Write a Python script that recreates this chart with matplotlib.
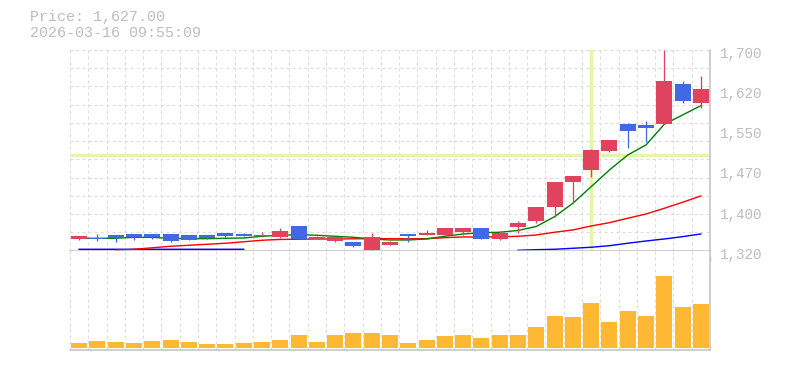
import matplotlib
matplotlib.use("Agg")
import matplotlib.pyplot as plt
import matplotlib.transforms as mtransforms
import numpy as np

# ---------------- data ----------------
dates = ["1/28", "1/29", "1/30", "2/2", "2/3", "2/4", "2/5", "2/6", "2/9", "2/10",
         "2/12", "2/13", "2/16", "2/17", "2/18", "2/19", "2/20", "2/24", "2/25", "2/26",
         "2/27", "3/2", "3/3", "3/4", "3/5", "3/6", "3/9", "3/10", "3/11", "3/12",
         "3/13", "3/16", "3/17", "3/18", "3/19"]

opens = [1343, 1344, 1350, 1352, 1352, 1352, 1350, 1350, 1354, 1352,
         1348, 1346, 1367, 1343, 1338, 1337, 1321, 1331, 1352, 1350,
         1350, 1356, 1363, 1343, 1365, 1376, 1403, 1451, 1472, 1509,
         1560, 1558, 1560, 1636, 1600]
highs = [1348, 1352, 1350, 1352, 1352, 1352, 1350, 1350, 1354, 1354,
         1356, 1363, 1367, 1347, 1348, 1337, 1353, 1338, 1352, 1359,
         1363, 1363, 1363, 1357, 1376, 1403, 1450, 1462, 1513, 1530,
         1562, 1566, 1700, 1641, 1651]
lows = [1341, 1338, 1337, 1341, 1343, 1337, 1340, 1343, 1346, 1347,
        1346, 1344, 1342, 1342, 1336, 1327, 1320, 1330, 1337, 1350,
        1350, 1349, 1343, 1341, 1353, 1373, 1384, 1413, 1460, 1506,
        1515, 1526, 1560, 1600, 1591]
closes = [1348, 1343, 1344, 1346, 1345, 1339, 1341, 1344, 1347, 1348,
          1350, 1358, 1342, 1346, 1345, 1329, 1346, 1337, 1347, 1354,
          1363, 1363, 1343, 1354, 1373, 1403, 1450, 1462, 1511, 1530,
          1547, 1552, 1641, 1603, 1627]

volumes = [50, 70, 60, 50, 70, 80, 60, 40, 40, 50,
           60, 80, 130, 60, 130, 150, 150, 130, 50, 80,
           120, 130, 100, 130, 130, 210, 320, 310, 450, 260,
           370, 320, 710, 410, 440]

nan = float("nan")
ma_short = [1343.5, 1343.5, 1343.5, 1345.4, 1345.4, 1343.2, 1342.8, 1342.8, 1343.5, 1344.1,
            1347.3, 1349.2, 1350.4, 1349.2, 1347.3, 1345.4, 1342.2, 1340.3, 1340.3, 1342.2,
            1347.5, 1351.7, 1354.1, 1354.9, 1358.3, 1365.9, 1384.4, 1409.8, 1441.2, 1472.8,
            1501.2, 1520.2, 1559.4, 1577.0, 1594.6]
ma_mid = [nan, nan, 1320.8, 1322.7, 1325.5, 1328.4, 1330.3, 1332.2, 1334.1, 1336.9,
          1339.8, 1341.3, 1341.7, 1342.2, 1342.2, 1342.5, 1342.8, 1342.8, 1342.5, 1342.8,
          1344.7, 1346.0, 1346.0, 1346.4, 1347.3, 1349.8, 1354.9, 1359.3, 1366.8, 1373.1,
          1381.4, 1389.5, 1400.3, 1411.7, 1423.6]
ma_long = [1322.7, 1322.7, 1322.7, 1322.7, 1322.7, 1322.7, 1322.7, 1322.7, 1322.7, 1322.7,
           nan, nan, nan, nan, nan, nan, nan, nan, nan, nan,
           nan, nan, nan, nan, 1320.8, 1321.9, 1322.7, 1324.6, 1326.5, 1329.5,
           1334.1, 1338.4, 1342.2, 1346.6, 1351.7]

date_labels = ["2/3", "2/10", "2/18", "2/26", "3/5", "3/12", "3/19"]
price_labels = ["1,320", "1,400", "1,470", "1,550", "1,620", "1,700"]
cursor_date = "3/11"
cursor_price = 1501
header_lines = ["Price: 1,627.00", "2026-03-16 09:55:09"]

# ---------------- style ----------------
FONT = "Liberation Mono"
UP = "#e0435e"
DOWN = "#4169e1"
VOL = "#ffb833"
GRID = "#dcdcdc"
AXIS = "#c0c0c0"
TEXT = "#bdbdbd"
CROSS = "#e3f5a8"
px = 0.72  # points per pixel at dpi 100

W, H = 785, 370
fig = plt.figure(figsize=(W / 100, H / 100), dpi=100)


def rect(x0, y0, x1, y1):
    return [x0 / W, 1 - y1 / H, (x1 - x0) / W, (y1 - y0) / H]


ax = fig.add_axes(rect(70, 50, 710, 250.7))
axv = fig.add_axes(rect(70, 250.7, 710, 350))

n = len(dates)
x = np.arange(n)
ymin, ymax = min(lows), max(highs)

for a in (ax, axv):
    a.set_xlim(-0.5, n - 0.5)
    for s in ("top", "left"):
        a.spines[s].set_visible(False)
    for s in ("bottom", "right"):
        a.spines[s].set_color(AXIS)
        a.spines[s].set_linewidth(1.5 * px)
        a.spines[s].set_zorder(6)
    for i in range(n + 1):
        a.axvline(i - 0.5, color=GRID, lw=1 * px, ls=(0, (3, 3)), zorder=0)

ax.set_ylim(ymin, ymax)
for k in range(12):
    ax.axhline(ymin + k * (ymax - ymin) / 11, color=GRID, lw=1 * px, ls=(0, (3, 3)), zorder=0)

# crosshair
ax.axvline(dates.index(cursor_date), color=CROSS, lw=3.2 * px, zorder=1)
ax.axhline(cursor_price, color=CROSS, lw=3.2 * px, zorder=1)

# moving averages
ax.plot(x, ma_long, color="#0000ff", lw=1.4 * px, zorder=2)
ax.plot(x, ma_mid, color="#ff0000", lw=1.4 * px, zorder=2)
ax.plot(x, ma_short, color="#008000", lw=1.4 * px, zorder=2)

# candles
bw = 0.875
for i in range(n):
    o, h, l, c = opens[i], highs[i], lows[i], closes[i]
    col = UP if c >= o else DOWN
    ax.vlines(i, l, h, color=col, lw=1.3 * px, zorder=3)
    ax.bar(i, max(abs(c - o), 1.2), bottom=min(o, c), width=bw, color=col,
           linewidth=0, zorder=4)

# volume
axv.bar(x, volumes, width=bw, color=VOL, linewidth=0, zorder=3)
axv.set_ylim(-23, 967)
axv.set_xticks([])
axv.set_yticks([])

# ticks
ax.set_xticks([dates.index(d) for d in date_labels])
ax.set_xticklabels(date_labels, family=FONT)
ax.tick_params(axis="x", length=0, pad=3.4, labelsize=6.9, labelcolor=TEXT)
ax.yaxis.tick_right()
ax.set_yticks(np.linspace(ymin, ymax, len(price_labels)))
ax.set_yticklabels(price_labels, family=FONT)
ax.tick_params(axis="y", length=0, pad=7.5, labelsize=10.3, labelcolor=TEXT)
off = mtransforms.ScaledTranslation(0, -2.5 / 100, fig.dpi_scale_trans)
for lbl in ax.get_yticklabels():
    lbl.set_transform(lbl.get_transform() + off)

# header text
for j, t in enumerate(header_lines):
    fig.text(29.5 / W, 1 - (17.3 + 15.5 * j) / H, t, ha="left", va="center",
             fontsize=10.8, color=TEXT, family=FONT)

fig.savefig("out.png", dpi=100)
